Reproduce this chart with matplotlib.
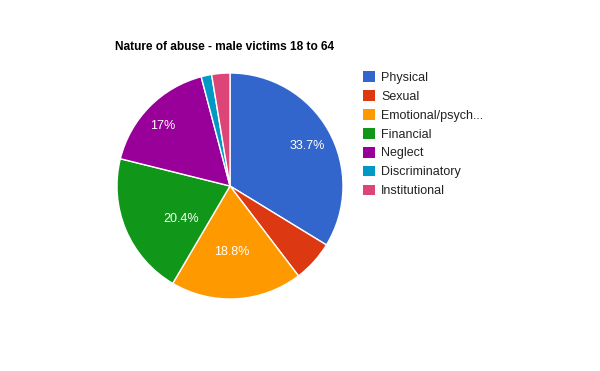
import matplotlib
matplotlib.use("Agg")
import matplotlib.pyplot as plt
from matplotlib.patches import Patch
import numpy as np

plt.rcParams["font.family"] = ["Liberation Sans", "DejaVu Sans"]

TITLE = "Nature of abuse - male victims 18 to 64"
CATEGORIES = ["Physical", "Sexual", "Emotional/psych...", "Financial",
              "Neglect", "Discriminatory", "Institutional"]
VALUES = [33.7, 5.9, 18.8, 20.4, 17.0, 1.5, 2.6]
COLORS = ["#3366cc", "#dc3912", "#ff9900", "#109618",
          "#990099", "#0099c6", "#dd4477"]
# label placement per slice: fraction of radius, and angle nudge (deg)
LABEL_DIST = [0.77, 0.6, 0.58, 0.52, 0.8, 0.6, 0.6]
LABEL_NUDGE = [-2, 0, -2, 11, 3, 0, 0]
MIN_LABEL = 10.0


def fmt_pct(v):
    s = f"{v:.1f}"
    if s.endswith(".0"):
        s = s[:-2]
    return s + "%"


W, H = 600, 371
fig = plt.figure(figsize=(W / 100, H / 100), dpi=100)

cx, cy, r = 230, 186, 113
ax = fig.add_axes([(cx - r) / W, (H - cy - r) / H, 2 * r / W, 2 * r / H])
wedges, _ = ax.pie(
    VALUES,
    colors=COLORS,
    startangle=90,
    counterclock=False,
    radius=1.0,
    wedgeprops=dict(edgecolor="white", linewidth=1.0),
)
ax.set_xlim(-1, 1)
ax.set_ylim(-1, 1)
ax.set_aspect("equal")
ax.axis("off")

total = sum(VALUES)
for w, v, d, n in zip(wedges, VALUES, LABEL_DIST, LABEL_NUDGE):
    pct = v / total * 100
    if pct < MIN_LABEL:
        continue
    mid = np.deg2rad((w.theta1 + w.theta2) / 2 + n)
    ax.text(d * np.cos(mid), d * np.sin(mid), fmt_pct(v),
            color="white", fontsize=9, ha="center", va="center")

fig.text(115 / W, 1 - 50 / H, TITLE, fontsize=8.6, fontweight="bold",
         ha="left", va="baseline")

handles = [Patch(facecolor=c, edgecolor="none") for c in COLORS]
fig.legend(handles, CATEGORIES, loc="upper left",
           bbox_to_anchor=(363 / W, 1 - 71 / H), frameon=False,
           fontsize=9, handlelength=0.95, handleheight=0.95,
           handletextpad=0.5, labelspacing=0.5, borderpad=0,
           borderaxespad=0, labelcolor="#222222")

fig.savefig("out.png", dpi=100)
